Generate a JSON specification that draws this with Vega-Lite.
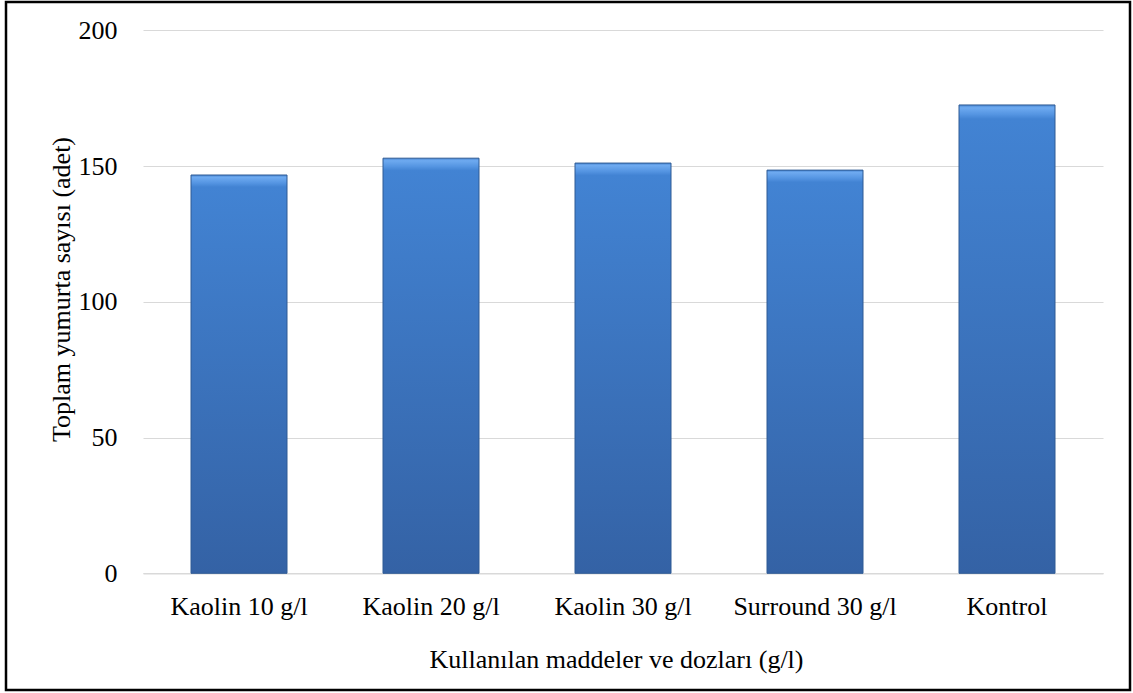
{
  "$schema": "https://vega.github.io/schema/vega-lite/v6.json",
  "autosize": "none",
  "width": 1124,
  "height": 688,
  "padding": {"left": 6, "top": 2, "right": 3, "bottom": 3},
  "background": "white",
  "config": {
    "view": {"stroke": "black", "strokeWidth": 2.5},
    "font": "Liberation Serif"
  },
  "data": {
    "values": [
      {"treatment": "Kaolin 10 g/l", "eggs": 146.7},
      {"treatment": "Kaolin 20 g/l", "eggs": 152.9},
      {"treatment": "Kaolin 30 g/l", "eggs": 151.1},
      {"treatment": "Surround 30 g/l", "eggs": 148.5},
      {"treatment": "Kontrol", "eggs": 172.5}
    ]
  },
  "mark": {
    "type": "bar",
    "stroke": "#2f5b94",
    "strokeWidth": 1,
    "color": {
      "gradient": "linear",
      "x1": 0, "y1": 0, "x2": 0, "y2": 1,
      "stops": [
        {"offset": 0, "color": "#4a88d4"},
        {"offset": 0.006, "color": "#6eaaf0"},
        {"offset": 0.02, "color": "#5595e2"},
        {"offset": 0.03, "color": "#4283d3"},
        {"offset": 1, "color": "#3462a5"}
      ]
    }
  },
  "encoding": {
    "x": {
      "field": "treatment",
      "type": "nominal",
      "sort": null,
      "scale": {"range": [137, 1097], "paddingInner": 0.5, "paddingOuter": 0.25},
      "axis": {
        "orient": "bottom",
        "offset": -116.7,
        "grid": false,
        "ticks": false,
        "tickSize": 0,
        "labelAngle": 0,
        "labelPadding": 20,
        "labelFontSize": 26,
        "labelColor": "black",
        "domainColor": "#d9d9d9",
        "domainWidth": 1.5,
        "title": "Kullanılan maddeler ve dozları (g/l)",
        "titleFontSize": 26,
        "titleFontWeight": "normal",
        "titleColor": "black",
        "titleBaseline": "alphabetic",
        "titleAlign": "center",
        "titleX": 610,
        "titleY": 93.7
      }
    },
    "y": {
      "field": "eggs",
      "type": "quantitative",
      "scale": {"domain": [0, 200], "range": [571.3, 28.3], "nice": false, "zero": true},
      "axis": {
        "orient": "left",
        "offset": -137,
        "values": [0, 50, 100, 150, 200],
        "grid": true,
        "gridColor": "#d9d9d9",
        "gridWidth": 1.2,
        "domain": false,
        "ticks": false,
        "tickSize": 0,
        "labelPadding": 26,
        "labelFontSize": 26,
        "labelColor": "black",
        "title": "Toplam yumurta sayısı (adet)",
        "titleFontSize": 26,
        "titleFontWeight": "normal",
        "titleColor": "black",
        "titleAngle": -90,
        "titleBaseline": "alphabetic",
        "titleAlign": "center",
        "titleX": -74,
        "titleY": 287
      }
    }
  }
}
